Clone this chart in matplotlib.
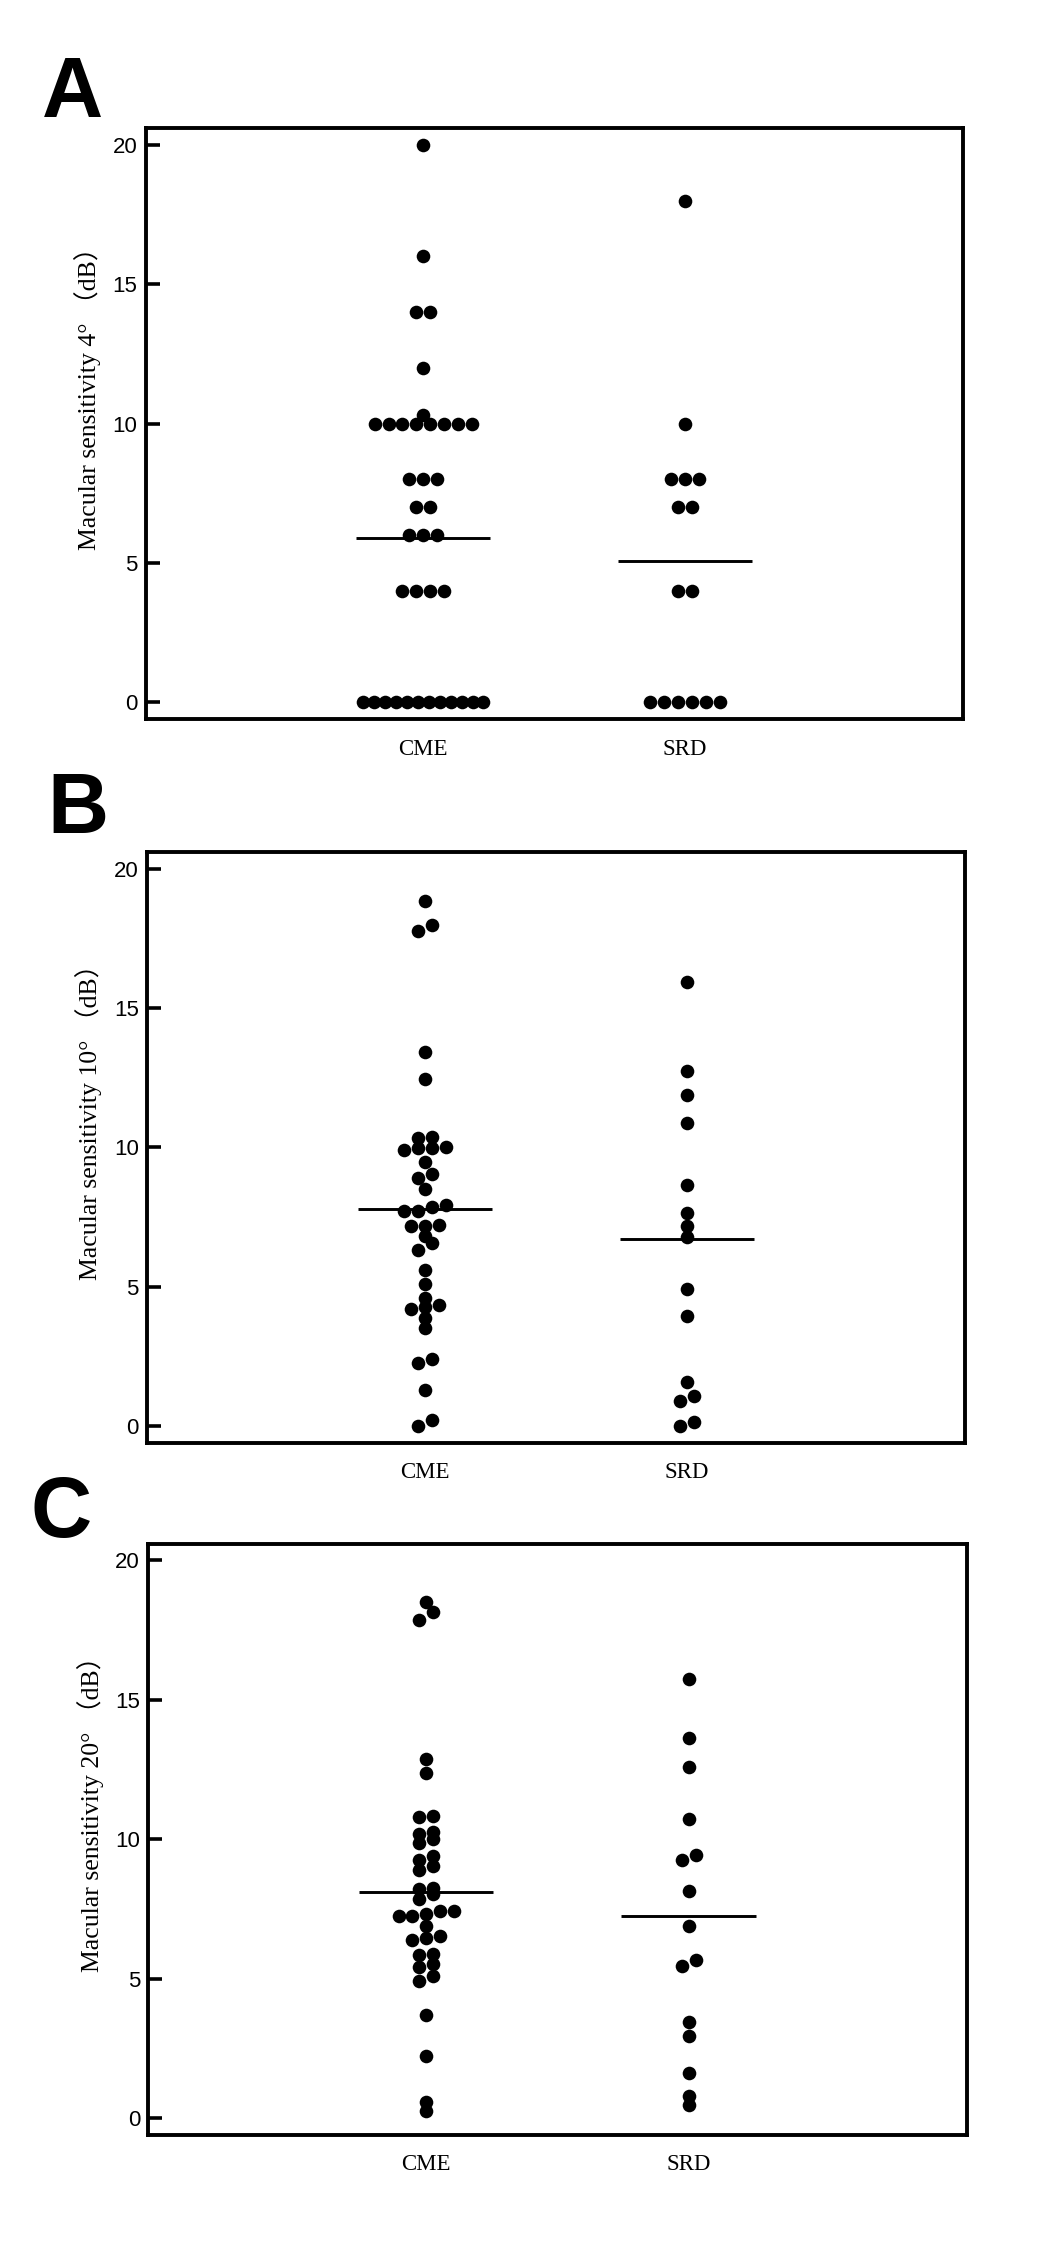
import numpy as np
import matplotlib
matplotlib.use("Agg")
import matplotlib.pyplot as plt

# values (dB)
groups = ["CME", "SRD"]

cme_4 = [20, 16, 14, 14, 12, 10.3, 10, 10, 10, 10, 10, 10, 10, 10,
         8, 8, 8, 7, 7, 6, 6, 6, 4, 4, 4, 4,
         0, 0, 0, 0, 0, 0, 0, 0, 0, 0, 0, 0]
srd_4 = [18, 10, 8, 8, 8, 7, 7, 4, 4, 0, 0, 0, 0, 0, 0]

cme_10 = [18.83, 17.75, 17.97, 13.41, 12.47, 10.33, 10.37, 9.91, 9.97, 9.97, 10.0,
          9.47, 8.90, 9.05, 8.49, 7.71, 7.71, 7.86, 7.95, 7.17, 7.17, 7.22,
          6.82, 6.58, 6.31, 5.62, 5.11, 4.61, 4.35, 4.19, 4.28, 3.89, 3.53,
          2.28, 2.40, 1.30, 0.0, 0.22]
srd_10 = [15.94, 12.74, 11.88, 10.88, 8.65, 7.63, 7.18, 6.79, 4.93, 3.95,
          1.58, 0.92, 1.10, 0.0, 0.15]

cme_20 = [18.49, 18.14, 17.86, 12.86, 12.36, 10.78, 10.84, 10.18, 10.24, 9.85, 9.99,
          9.27, 9.39, 8.91, 9.04, 8.25, 8.22, 8.05, 7.84, 7.24, 7.24, 7.33, 7.43, 7.43,
          6.88, 6.38, 6.47, 6.52, 5.84, 5.90, 5.42, 5.54, 5.08, 4.92,
          3.71, 2.21, 0.57, 0.25]
srd_20 = [15.74, 13.62, 12.59, 10.73, 9.25, 9.43, 8.14, 6.89, 5.65, 5.44,
          3.43, 2.94, 1.63, 0.78, 0.47]

# horizontal lines drawn on each column
lines_4 = [5.89, 5.08]
lines_10 = [7.80, 6.73]
lines_20 = [8.09, 7.25]

panels = [
    ("A", "Macular sensitivity 4° （dB）", cme_4, srd_4, lines_4),
    ("B", "Macular sensitivity 10° （dB）", cme_10, srd_10, lines_10),
    ("C", "Macular sensitivity 20° （dB）", cme_20, srd_20, lines_20),
]


def swarm(vals, center, tol=0.29, step=0.053, max_span=0.46):
    # prism-like column scatter: close values share a row, rows are centred
    v = np.sort(np.asarray(vals, float))
    rows = []
    for y in v:
        if rows and y - rows[-1][0] < tol:
            rows[-1].append(y)
        else:
            rows.append([y])
    xs, ys = [], []
    for r in rows:
        n = len(r)
        s = step if n == 1 else min(step, max_span / (n - 1))
        for i, y in enumerate(r):
            xs.append(center + (i - (n - 1) / 2) * s)
            ys.append(y)
    return xs, ys


fig = plt.figure(figsize=(10.5, 22.5), dpi=100)

# axes rectangles (left, bottom, width, height) and letter positions in px
rects = [(0.1388, 0.6804, 0.778, 0.2627),
         (0.1400, 0.3587, 0.7787, 0.2627),
         (0.1413, 0.0512, 0.7792, 0.2628)]
letter_xy = [(42, 117), (47, 833), (30, 1537)]

for (letter, ylab, cme, srd, lns), rect, (lx, ly) in zip(panels, rects, letter_xy):
    ax = fig.add_axes(rect)
    for k, vals in enumerate([cme, srd]):
        xs, ys = swarm(vals, k + 1)
        ax.plot(xs, ys, "o", color="black", ms=9.8, mew=0, zorder=3)
        ax.plot([k + 1 - 0.256, k + 1 + 0.256], [lns[k], lns[k]],
                color="black", lw=2.1, zorder=2, solid_capstyle="butt")

    ax.set_xlim(-0.06, 3.06)
    ax.set_ylim(-0.6, 20.6)
    ax.set_yticks([0, 5, 10, 15, 20])
    ax.set_xticks([1, 2])
    ax.set_xticklabels(groups, family="Liberation Serif", fontsize=16.5)
    ax.tick_params(axis="y", direction="in", length=10, width=2.6, pad=6,
                   labelsize=16)
    ax.tick_params(axis="x", length=0, pad=14)
    for lab in ax.get_yticklabels():
        lab.set_family("Liberation Sans")
    for sp in ax.spines.values():
        sp.set_linewidth(2.8)

    ax.set_ylabel(ylab, family=["Liberation Serif", "Noto Sans CJK SC"],
                  fontsize=18.5, va="center")
    ax.yaxis.set_label_coords(-0.071, 0.553)

    fig.text(lx / 1050, 1 - ly / 2250, letter, fontsize=61, fontweight="bold",
             family="Liberation Sans", ha="left", va="baseline")

fig.savefig("out.png", dpi=100, facecolor="white")
